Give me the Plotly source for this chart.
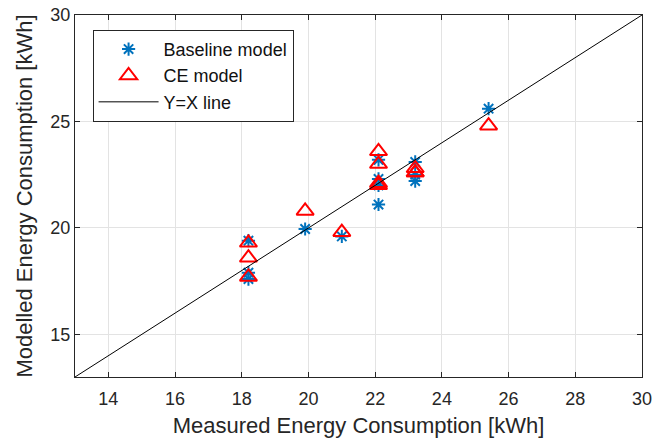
import plotly.graph_objects as go

base_x = [18.2, 18.2, 18.2, 19.9, 21.0, 22.1, 22.1, 22.1, 22.1, 23.2, 23.2, 23.2, 25.4]
base_y = [19.4, 17.9, 17.6, 19.95, 19.6, 23.2, 22.3, 22.0, 21.1, 23.1, 22.5, 22.2, 25.6]
ce_x = [18.2, 18.2, 18.2, 19.9, 21.0, 22.1, 22.1, 22.1, 22.1, 23.2, 23.2, 23.2, 25.4]
ce_y = [19.3, 18.6, 17.7, 20.8, 19.8, 23.6, 23.0, 22.0, 22.1, 22.8, 22.6, 22.6, 24.8]
line_xy = [13, 30]
x_ticks = [14, 16, 18, 20, 22, 24, 26, 28, 30]
y_ticks = [15, 20, 25, 30]

font = "Liberation Sans, Arial, sans-serif"

fig = go.Figure()
fig.add_trace(go.Scatter(x=base_x, y=base_y, mode="markers", name="Baseline model",
                         marker=dict(symbol="asterisk-open", size=11, color="#0072BD",
                                     line=dict(color="#0072BD", width=2))))
fig.add_trace(go.Scatter(x=ce_x, y=ce_y, mode="markers", name="CE model",
                         marker=dict(symbol="triangle-up-open", size=15, color="#FF0000",
                                     line=dict(color="#FF0000", width=2))))
fig.add_trace(go.Scatter(x=line_xy, y=line_xy, mode="lines", name="Y=X line",
                         line=dict(color="black", width=1)))

axis_common = dict(showgrid=True, gridcolor="#e3e3e3", gridwidth=1, zeroline=False,
                   showline=True, linecolor="#262626", linewidth=1, mirror="ticks",
                   ticks="inside", ticklen=5, tickcolor="#262626", automargin=False,
                   ticklabeloverflow="allow",
                   tickfont=dict(size=18, color="#262626", family=font))

fig.update_xaxes(range=[13, 30], tickvals=x_ticks, ticklabelstandoff=5,
                 title=dict(text="Measured Energy Consumption [kWh]",
                            font=dict(size=22, color="#262626", family=font), standoff=10),
                 **axis_common)
fig.update_yaxes(range=[13, 30], tickvals=y_ticks,
                 title=dict(text="Modelled Energy Consumption [kWh]",
                            font=dict(size=22, color="#262626", family=font), standoff=11),
                 **axis_common)

fig.update_layout(
    width=655, height=443,
    margin=dict(l=75, r=13, t=15, b=66),
    plot_bgcolor="white", paper_bgcolor="white",
    font=dict(family=font, color="#262626"),
    legend=dict(x=0.031, y=0.959, xanchor="left", yanchor="top",
                bgcolor="white", bordercolor="#262626", borderwidth=1,
                font=dict(size=18, color="#111111", family=font),
                itemwidth=60, tracegroupgap=0),
    showlegend=True,
)

fig.write_html("out.html", config={"displayModeBar": False},
               post_script="document.body.style.margin='0';document.body.style.overflow='hidden';")
